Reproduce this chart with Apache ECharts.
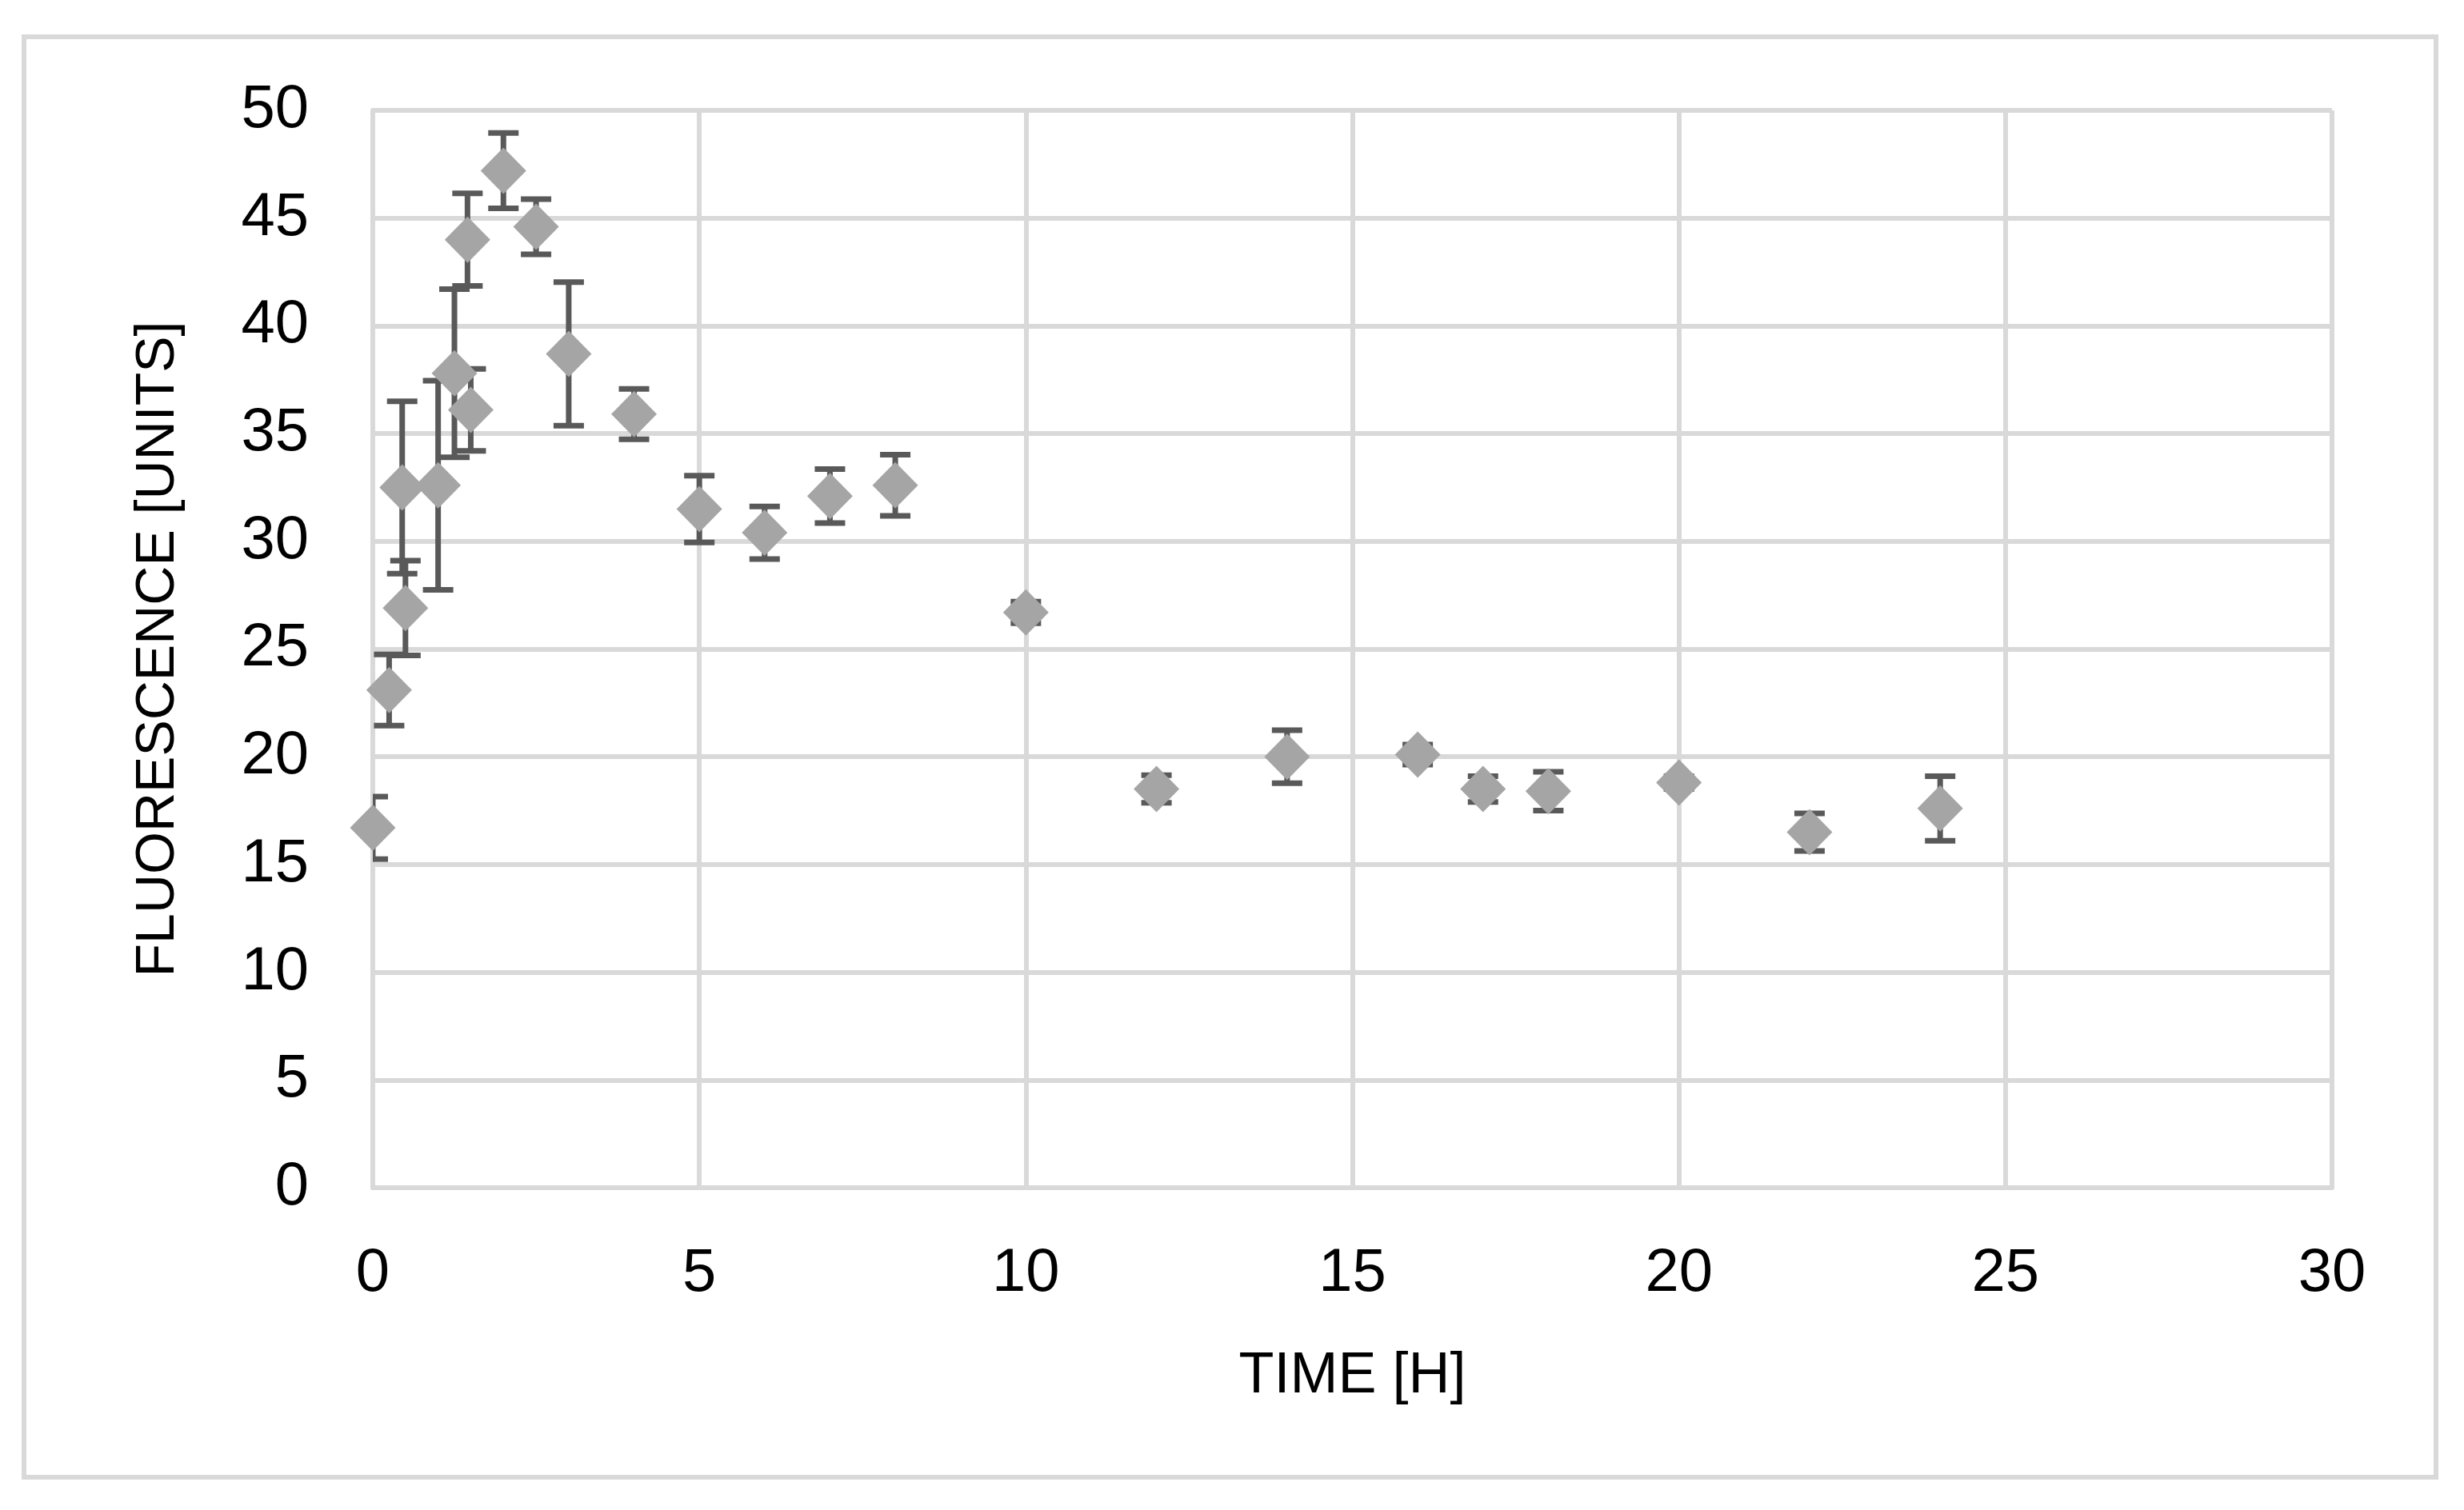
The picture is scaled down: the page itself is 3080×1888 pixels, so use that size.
<!DOCTYPE html>
<html>
<head>
<meta charset="utf-8">
<script src="https://cdn.jsdelivr.net/npm/echarts@6/dist/echarts.min.js"></script>
<style>
html,body{margin:0;padding:0;background:#fff;}
#chart{width:3080px;height:1888px;}
</style>
</head>
<body>
<div id="chart"></div>
<script>
// Data
const timeH = [0, 0.25, 0.45, 0.5, 1, 1.25, 1.45, 1.5, 2, 2.5, 3, 4, 5, 6, 7, 8, 10, 12, 14, 16, 17, 18, 20, 22, 24];
const fluorescence = [16.7, 23.1, 32.5, 26.9, 32.6, 37.8, 44.0, 36.1, 47.2, 44.6, 38.7, 35.9, 31.5, 30.4, 32.1, 32.6, 26.7, 18.5, 20.0, 20.1, 18.5, 18.4, 18.8, 16.5, 17.6];
const errorSD = [1.45, 1.65, 4.0, 2.2, 4.85, 3.9, 2.15, 1.9, 1.75, 1.28, 3.33, 1.17, 1.55, 1.22, 1.25, 1.42, 0.5, 0.64, 1.23, 0.46, 0.6, 0.9, 0.3, 0.87, 1.5];
const xTicks = [0, 5, 10, 15, 20, 25, 30];
const yTicks = [0, 5, 10, 15, 20, 25, 30, 35, 40, 45, 50];
const xTitle = 'TIME [H]';
const yTitle = 'FLUORESCENCE [UNITS]';

const points = timeH.map((t, i) => [t, fluorescence[i]]);
const errData = timeH.map((t, i) => [t, fluorescence[i] - errorSD[i], fluorescence[i] + errorSD[i]]);

const FONT = "'Liberation Sans', Arial, sans-serif";
const GRID = '#d9d9d9';

const chart = echarts.init(document.getElementById('chart'));
chart.setOption({
  backgroundColor: '#ffffff',
  animation: false,
  graphic: [{
    type: 'rect',
    shape: { x: 30, y: 46, width: 3015, height: 1801 },
    style: { fill: 'none', stroke: GRID, lineWidth: 6 },
    silent: true, z: -10
  }],
  grid: { left: 466, right: 165, top: 138, bottom: 403 },
  xAxis: {
    type: 'value',
    min: xTicks[0], max: xTicks[xTicks.length - 1], interval: xTicks[1] - xTicks[0],
    name: xTitle, nameLocation: 'middle', nameGap: 200,
    nameTextStyle: { fontFamily: FONT, fontSize: 72, color: '#000' },
    axisLine: { show: true, lineStyle: { color: GRID, width: 6 } },
    axisTick: { show: false },
    axisLabel: { fontFamily: FONT, fontSize: 76, color: '#000', margin: 70 },
    splitLine: { show: true, lineStyle: { color: GRID, width: 6 } }
  },
  yAxis: {
    type: 'value',
    min: yTicks[0], max: yTicks[yTicks.length - 1], interval: yTicks[1] - yTicks[0],
    name: yTitle, nameLocation: 'middle', nameGap: 234, nameRotate: 90,
    nameTextStyle: { fontFamily: FONT, fontSize: 68, color: '#000' },
    axisLine: { show: true, lineStyle: { color: GRID, width: 6 } },
    axisTick: { show: false },
    axisLabel: { fontFamily: FONT, fontSize: 76, color: '#000', margin: 80 },
    splitLine: { show: true, lineStyle: { color: GRID, width: 6 } }
  },
  series: [
    {
      type: 'custom',
      name: 'error',
      clip: true,
      z: 3,
      data: errData,
      encode: { x: 0, y: [1, 2] },
      renderItem: function (params, api) {
        const x = api.value(0);
        const lo = api.coord([x, api.value(1)]);
        const hi = api.coord([x, api.value(2)]);
        const half = 19;
        const left = params.coordSys.x;
        const right = params.coordSys.x + params.coordSys.width;
        const x1 = Math.max(hi[0] - half, left);
        const x2 = Math.min(hi[0] + half, right);
        const st = { stroke: '#595959', lineWidth: 7 };
        return {
          type: 'group',
          children: [
            { type: 'line', shape: { x1: lo[0], y1: lo[1], x2: hi[0], y2: hi[1] }, style: st },
            { type: 'line', shape: { x1: x1, y1: hi[1], x2: x2, y2: hi[1] }, style: st },
            { type: 'line', shape: { x1: x1, y1: lo[1], x2: x2, y2: lo[1] }, style: st }
          ]
        };
      }
    },
    {
      type: 'scatter',
      name: 'fluorescence',
      data: points,
      symbol: 'diamond',
      symbolSize: [57, 58],
      clip: false,
      z: 5,
      itemStyle: { color: '#a5a5a5', opacity: 1 }
    }
  ]
});
</script>
</body>
</html>
